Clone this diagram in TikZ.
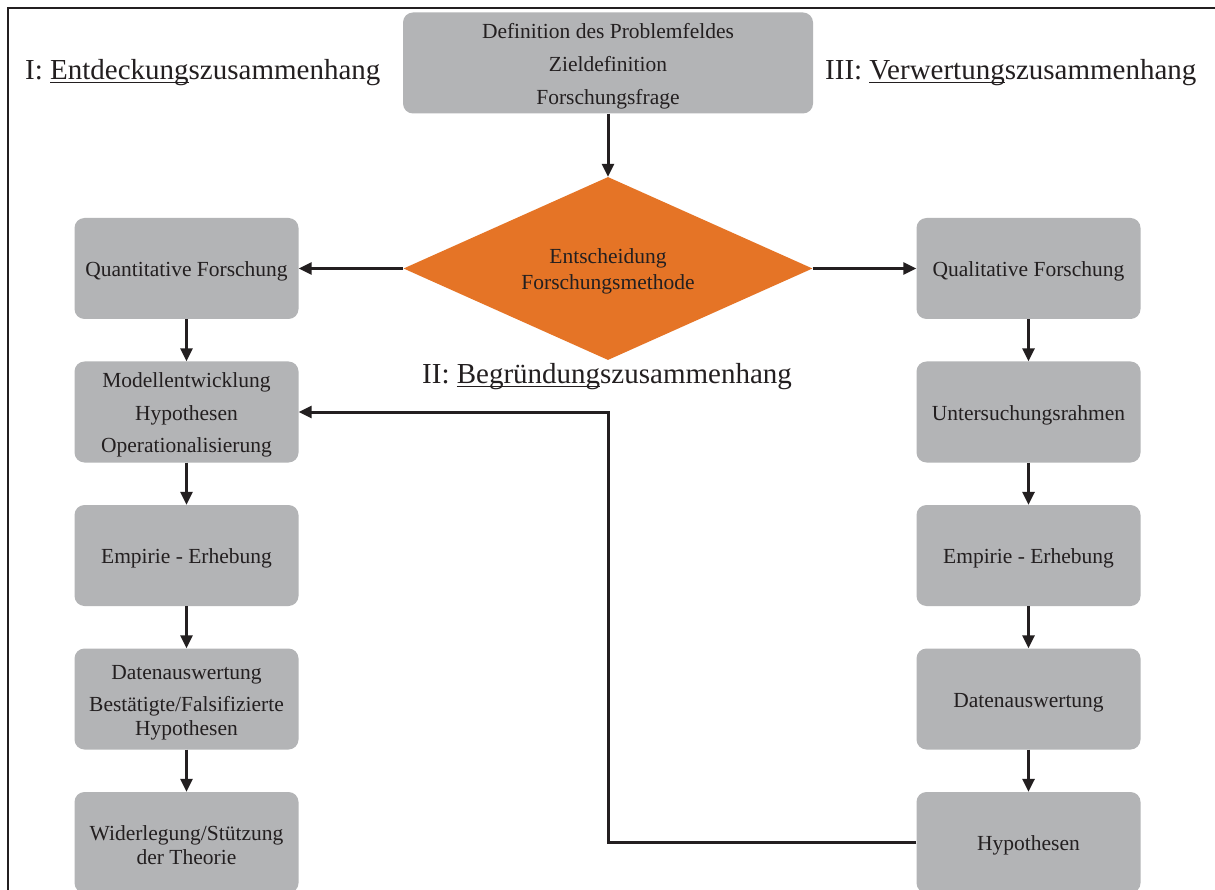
\documentclass[tikz,border=0pt]{standalone}
\usepackage{fontspec}
\setmainfont{Liberation Serif}
\usetikzlibrary{shapes.geometric,arrows.meta}
\definecolor{boxgray}{HTML}{B3B4B6}
\definecolor{decorange}{HTML}{E57426}
\definecolor{ink}{HTML}{231F20}
% underline with a rule that scales with the large heading font
\newcommand\undl[1]{\setbox0\hbox{#1}\rlap{\color{ink}\rule[-3.5pt]{\wd0}{1.8pt}}\box0}
% invisible strut that gives the first line of a box a little extra room above
\newcommand\topstrut{\rule{0pt}{21pt}}

\begin{document}
\begin{tikzpicture}[x=1pt,y=-1pt,
  boxtext/.style={text=ink, inner sep=0pt, align=center,
    font=\fontsize{21.5}{24}\selectfont},
  stepbox/.style={rectangle, rounded corners=10pt, fill=boxgray, boxtext,
    minimum width=224pt, minimum height=101pt},
  decbox/.style={diamond, fill=decorange, boxtext, minimum width=409pt,
    minimum height=183pt, aspect=2.2},
  flow/.style={draw=ink, line width=3pt, -{Triangle[length=13pt,width=12pt]}},
  phase/.style={anchor=base west, text=ink, inner sep=0pt,
    font=\fontsize{29}{34}\selectfont}]
\clip (0,0) rectangle (1215,890);
\fill[white] (0,0) rectangle (1215,890);
% frame
\draw[ink, line width=2pt] (1217,8) -- (8,8) -- (8,892);

% phase headings
\node[phase] (ph1) at (25,80) {I: \undl{Entdeckung}szusammenhang};
\node[phase] (ph3) at (825,80) {III: \undl{Verwertung}szusammenhang};
\node[phase] (ph2) at (422,384) {II: \undl{Begründung}szusammenhang};

% top and decision
\node[stepbox, minimum width=410pt] (prob) at (608,63)
  {\topstrut Definition des Problemfeldes\\[9pt]Zieldefinition\\[9pt]Forschungsfrage};
\node[decbox] (dec) at (608,268.5) {\topstrut Entscheidung\\[2pt]Forschungsmethode};

% quantitative branch
\node[stepbox] (quan) at (186.5,268.5) {\topstrut Quantitative Forschung};
\node[stepbox] (modL) at (186.5,412) {\topstrut Modellentwicklung\\[8.5pt]Hypothesen\\[8.5pt]Operationalisierung};
\node[stepbox] (empL) at (186.5,555.5) {\topstrut Empirie - Erhebung};
\node[stepbox] (datL) at (186.5,699) {\topstrut Datenauswertung\\[8pt]Bestätigte/Falsifizierte\\Hypothesen};
\node[stepbox] (widL) at (186.5,842.5) {\topstrut Widerlegung/Stützung\\der Theorie};

% qualitative branch
\node[stepbox] (qual) at (1028.5,268.5) {\topstrut Qualitative Forschung};
\node[stepbox] (untR) at (1028.5,412) {\topstrut Untersuchungsrahmen};
\node[stepbox] (empR) at (1028.5,555.5) {\topstrut Empirie - Erhebung};
\node[stepbox] (datR) at (1028.5,699) {\topstrut Datenauswertung};
\node[stepbox] (hypR) at (1028.5,842.5) {\topstrut Hypothesen};

% connectors
\draw[flow] (prob.south) -- (dec.north);
\draw[flow] (dec.west) -- (quan.east);
\draw[flow] (dec.east) -- (qual.west);
\draw[flow] (quan.south) -- (modL.north);
\draw[flow] (modL.south) -- (empL.north);
\draw[flow] (empL.south) -- (datL.north);
\draw[flow] (datL.south) -- (widL.north);
\draw[flow] (qual.south) -- (untR.north);
\draw[flow] (untR.south) -- (empR.north);
\draw[flow] (empR.south) -- (datR.north);
\draw[flow] (datR.south) -- (hypR.north);
\coordinate (bend) at (608,412);
\draw[flow] (hypR.west) -| (bend) -- (modL.east);
\end{tikzpicture}
\end{document}
